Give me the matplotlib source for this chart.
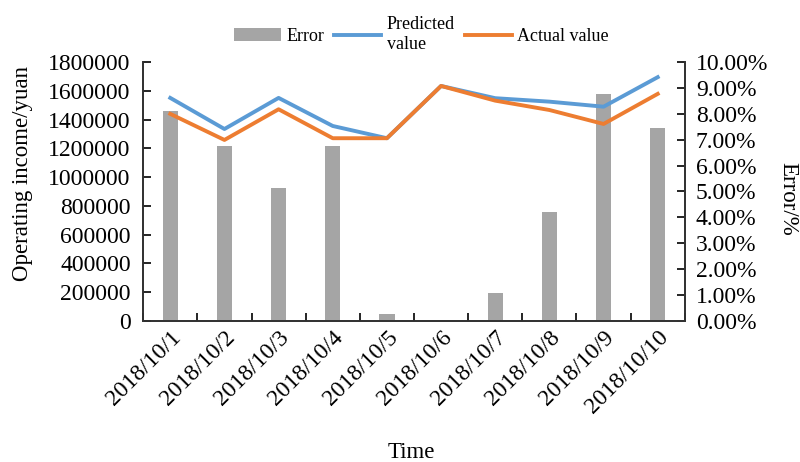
import matplotlib.pyplot as plt
import matplotlib.transforms as mtransforms
import numpy as np
from matplotlib.ticker import FuncFormatter, FixedLocator

dates = ["2018/10/1", "2018/10/2", "2018/10/3", "2018/10/4", "2018/10/5",
         "2018/10/6", "2018/10/7", "2018/10/8", "2018/10/9", "2018/10/10"]
predicted = [1550000, 1334000, 1550000, 1355000, 1270000,
             1633000, 1548000, 1524000, 1489000, 1694000]
actual = [1439000, 1258000, 1471000, 1270000, 1270000,
          1633000, 1531000, 1466000, 1369000, 1578000]
error_pct = [8.12, 6.76, 5.15, 6.76, 0.26, 0.0, 1.07, 4.20, 8.75, 7.44]

plt.rcParams["font.family"] = ["Liberation Serif", "DejaVu Serif"]

fig = plt.figure(figsize=(8, 4.62), dpi=100)
ax = fig.add_axes([0.179, 0.305, 0.677, 0.561])
ax2 = ax.twinx()

x = np.arange(len(dates))
ax2.bar(x, error_pct, width=0.28, color="#A5A5A5", label="Error", zorder=1)
ax.plot(x, predicted, color="#5B9BD5", lw=2.8, label="Predicted\nvalue", zorder=3)
ax.plot(x, actual, color="#ED7D31", lw=2.8, label="Actual value", zorder=3)

# lines above the bars
ax.set_zorder(ax2.get_zorder() + 1)
ax.patch.set_visible(False)

ax.set_xlim(-0.5, len(dates) - 0.5)
ax.set_ylim(0, 1800000)
ax.set_yticks(range(0, 1800001, 200000))
ax.yaxis.set_major_formatter(FuncFormatter(lambda v, p: f"{int(v)}"))
ax2.set_ylim(0, 10)
ax2.set_yticks(range(0, 11))
ax2.yaxis.set_major_formatter(FuncFormatter(lambda v, p: f"{v:.2f}%"))

ax.set_xticks(x)
ax.set_xticklabels(dates, rotation=45, ha="right", rotation_mode="anchor", fontsize=17)
shift = mtransforms.ScaledTranslation(12 / 72, -11 / 72, fig.dpi_scale_trans)
for lab in ax.get_xticklabels():
    lab.set_transform(lab.get_transform() + shift)
ax.xaxis.set_minor_locator(FixedLocator(np.arange(-0.5, len(dates), 1.0)))
ax.tick_params(axis="x", which="major", length=0, pad=4)
ax.tick_params(axis="x", which="minor", direction="in", length=6, width=1.2)
ax.tick_params(axis="y", direction="in", length=6, width=1.2, labelsize=17, pad=9)
ax2.tick_params(axis="y", direction="in", length=6, width=1.2, labelsize=17, pad=8)

for a in (ax, ax2):
    a.spines["top"].set_visible(False)
    for s in ("left", "right", "bottom"):
        a.spines[s].set_linewidth(1.3)
        a.spines[s].set_color("#333333")

ax.set_xlabel("Time", fontsize=16.5, va="center")
ax.xaxis.set_label_coords(0.495, -0.506)
ax.set_ylabel("Operating income/yuan", fontsize=16.5, va="center")
ax.yaxis.set_label_coords(-0.223, 0.568)
ax2.set_ylabel("Error/%", fontsize=16.5, rotation=-90, va="center")
ax2.yaxis.set_label_coords(1.19, 0.471)

h1, l1 = ax2.get_legend_handles_labels()
h2, l2 = ax.get_legend_handles_labels()
fig.legend(h1 + h2, l1 + l2, loc="upper center", bbox_to_anchor=(0.527, 1.0),
           ncol=3, frameon=False, fontsize=13, handlelength=2.6,
           columnspacing=0.55, handletextpad=0.3)

fig.savefig("out.png", dpi=100)
